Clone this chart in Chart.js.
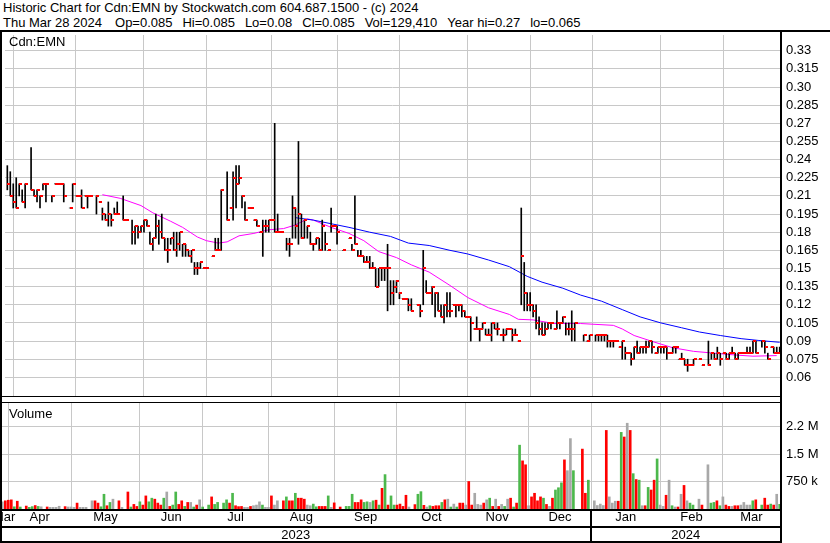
<!DOCTYPE html>
<html><head><meta charset="utf-8">
<script src="https://cdn.jsdelivr.net/npm/chart.js@4.4.1/dist/chart.umd.min.js"></script>
<style>
html,body{margin:0;padding:0;background:#fff;}
body{width:830px;height:543px;position:relative;overflow:hidden;font-family:"Liberation Sans",Arial,sans-serif;color:#000;}
.t{position:absolute;left:3px;font-size:13px;line-height:15px;white-space:pre;}
.t span{margin-left:10px;}
.t span.f{margin-left:13px;}
canvas{position:absolute;left:0;}
.lbl{position:absolute;font-size:13px;line-height:15px;white-space:pre;}
</style></head><body>
<div class="t" style="top:0">Historic Chart for Cdn:EMN by Stockwatch.com 604.687.1500 - (c) 2024</div>
<div class="t" style="top:15px">Thu Mar 28 2024<span class="f">Op=0.085</span><span>Hi=0.085</span><span>Lo=0.08</span><span>Cl=0.085</span><span>Vol=129,410</span><span>Year hi=0.27</span><span>lo=0.065</span></div>
<canvas id="pc" width="830" height="371" style="top:30px"></canvas>
<canvas id="vc" width="830" height="142" style="top:401px"></canvas>
<div class="lbl" style="left:9px;top:34px">Cdn:EMN</div>
<div class="lbl" style="left:9px;top:406px">Volume</div>
<script>
// ---- data (trading-day index 0 = Mon Apr 3 2023; first entry is day -2) ----
const firstDay = -2;
const hi = [
.235,.23,.22,.225,.22,.215,.22,null,.25,.215,
.215,.21,.22,.22,null,.21,.22,.22,.22,.22,
null,.20,.22,.21,.21,.215,.21,.21,.21,null,
.21,.205,.20,.195,.205,.195,.20,.205,null,.21,
.19,null,.19,.185,.185,.185,.19,.19,.18,.175,
.195,.19,.195,.175,.175,.175,.18,.18,.18,.17,
.17,.165,.165,.155,.155,.155,.15,.15,null,.16,
.175,.175,.215,null,.23,.20,.23,.235,.235,.21,
.205,.20,.20,.19,.19,.18,.19,.19,.19,.19,
.27,.195,.18,null,.175,.175,.21,.20,.255,.195,
.19,.185,.18,.17,.175,.175,.19,.18,.165,.20,
.185,.185,null,.165,null,.175,.17,.21,.165,.165,
.16,.16,.16,.155,.15,.15,.15,.15,.17,.14,
.14,.14,.13,.125,.125,.125,.125,null,.12,.12,
.165,.14,.13,.135,.13,.13,.12,.12,.13,.13,
.12,.12,.12,.12,.115,.11,.11,.10,.11,.10,
.105,.10,.10,.105,.105,.105,.095,.10,.10,.10,
.10,.10,.09,.20,.155,.13,.13,.12,.12,.11,
.105,.105,.105,.105,.10,.115,.105,.11,.105,.105,
.115,.105,null,null,.095,.09,.095,null,.095,.095,
.095,.095,.095,.09,.09,.09,.085,.09,.085,.08,
.08,.085,.09,.085,.085,.09,.09,.09,.08,.085,
.085,.085,.085,.08,.085,.085,.075,.08,.075,.075,
.07,.075,null,.075,.07,null,.09,.08,.08,.085,
.08,.08,.08,.08,.085,.08,.08,.08,.08,.085,
.085,.09,.09,null,.09,.09,.08,.085,.085,.085,.085];
const lo = [
.215,.21,.20,.20,.21,.205,.20,null,.215,.21,
.205,.20,.215,.205,null,.205,.22,.22,.22,.205,
null,.20,.205,.21,.21,.20,.21,.20,.21,null,
.195,.205,.19,.19,.185,.185,.195,.195,null,.19,
.19,null,.17,.17,.175,.18,.18,.185,.17,.165,
.175,.17,.175,.165,.155,.17,.165,.16,.165,.16,
.16,.16,.155,.145,.145,.15,.15,.15,null,.16,
.165,.165,.165,null,.19,.20,.19,.20,.22,.20,
.19,.20,.20,.19,.185,.18,.16,.18,.18,.19,
.18,.18,.18,null,.165,.16,.175,.175,.17,.175,
.175,.175,.17,.165,.17,.165,.165,.165,.165,.18,
.185,.17,null,.165,null,.175,.165,.17,.16,.16,
.155,.155,.15,.15,.135,.135,.14,.14,.115,.12,
.12,.13,.125,.125,.125,.115,.115,null,.12,.11,
.12,.13,.13,.12,.11,.115,.11,.105,.11,.11,
.12,.11,.115,.11,.11,.11,.09,.10,.10,.09,
.10,.095,.095,.09,.10,.095,.095,.09,.095,.10,
.09,.095,.09,.12,.115,.115,.115,.11,.10,.095,
.095,.095,.10,.10,.10,.10,.10,.105,.095,.095,
.09,.09,null,null,.09,.09,.09,null,.09,.09,
.09,.09,.085,.085,.085,.09,.085,.075,.075,.08,
.07,.075,.08,.08,.08,.08,.085,.08,.08,.08,
.08,.08,.075,.08,.08,.08,.075,.075,.07,.065,
.07,.07,null,.075,.07,null,.07,.075,.075,.075,
.07,.08,.075,.075,.08,.075,.075,.08,.08,.08,
.08,.08,.08,null,.085,.08,.075,.085,.08,.08,.08];
const cl = [
.22,.21,.205,.20,.22,.205,.22,null,.215,.21,
.215,.21,.22,.22,null,.21,.22,.22,.22,.21,
null,.20,.22,.21,.21,.20,.21,.21,.21,null,
.21,.205,.195,.19,.195,.19,.195,.195,null,.19,
.19,null,.18,.185,.18,.185,.19,.185,.17,.175,
.185,.18,.175,.165,.165,.175,.165,.17,.18,.17,
.165,.16,.165,.15,.15,.155,.15,.15,null,.16,
.165,.165,.215,null,.19,.20,.225,.22,.225,.21,
.19,.20,.20,.19,.185,.18,.185,.185,.19,.19,
.18,.18,.18,null,.17,.17,.20,.185,.195,.175,
.19,.185,.17,.17,.175,.165,.185,.17,.165,.185,
.185,.18,null,.165,null,.175,.165,.17,.16,.16,
.155,.155,.15,.15,.135,.15,.15,.15,.15,.13,
.135,.14,.13,.125,.125,.12,.115,null,.12,.115,
.15,.13,.13,.135,.13,.115,.11,.12,.115,.115,
.12,.12,.12,.115,.11,.11,.105,.10,.10,.10,
.105,.095,.095,.105,.10,.10,.095,.095,.10,.10,
.095,.095,.09,.16,.13,.12,.12,.115,.105,.10,
.095,.10,.105,.105,.10,.105,.105,.11,.10,.10,
.10,.105,null,null,.095,.09,.095,null,.095,.095,
.095,.095,.09,.09,.09,.09,.085,.09,.08,.08,
.075,.085,.08,.085,.085,.085,.09,.085,.08,.085,
.085,.085,.08,.08,.085,.085,.075,.075,.07,.07,
.07,.075,null,.075,.07,null,.07,.08,.075,.08,
.075,.08,.075,.08,.08,.075,.08,.08,.08,.08,
.08,.09,.08,null,.09,.085,.075,.085,.08,.08,.085];
// volume in thousands of shares, colour: r = down, g = up, n = unchanged
const vol = [
196,223,240,250,60,212,54,null,80,45,
65,95,70,60,null,55,45,45,45,75,
null,65,55,55,45,161,45,45,45,null,
223,223,161,60,402,89,179,268,null,223,
45,null,464,54,125,70,196,107,357,196,
295,268,161,107,295,464,71,107,464,125,
223,71,179,179,54,107,250,54,null,107,
330,125,180,null,161,250,161,429,89,65,
70,45,45,70,90,107,196,107,45,45,
357,107,223,null,223,330,223,223,429,295,
295,268,107,89,134,60,70,70,70,357,
45,167,null,54,null,71,71,402,179,179,
250,179,196,179,223,240,107,563,938,107,
357,107,107,134,71,375,54,null,120,402,
473,100,54,89,71,89,89,179,250,268,
54,134,54,161,161,107,750,107,429,125,
107,161,250,295,71,268,71,125,71,268,
295,54,161,1741,1313,1206,89,330,429,223,
330,295,125,71,295,518,580,714,1340,1045,
1920,1045,null,null,1634,429,786,null,223,95,
134,95,2143,330,161,212,212,2090,1964,2339,
2143,964,804,786,89,89,589,518,786,1366,
107,71,375,786,89,54,54,402,643,223,
161,107,null,268,107,null,1206,161,179,223,
89,330,107,71,71,89,89,107,179,107,
107,223,250,null,107,295,107,134,107,402,130];
const vcol = [
'n','r','r','r','g','r','g','','r','g',
'g','r','g','n','','r','n','n','n','n',
'','r','n','n','n','r','n','n','n','',
'n','r','r','g','g','r','g','n','','r',
'n','','r','g','r','r','g','r','r','g',
'g','r','r','r','g','n','r','g','g','r',
'r','g','r','n','g','r','n','g','','g',
'r','g','g','','g','g','r','g','r','r',
'r','n','n','r','n','n','n','g','n','n',
'r','n','n','','r','g','r','r','g','r',
'r','r','n','n','g','g','r','r','r','g',
'n','r','','r','','g','g','g','r','r',
'r','g','g','n','g','r','g','r','g','r',
'g','g','r','r','r','r','n','','r','g',
'g','r','n','g','r','r','r','g','r','n',
'g','n','g','r','r','n','r','r','n','n',
'n','r','n','g','r','n','r','n','g','n',
'r','g','r','g','r','r','n','r','r','r',
'r','g','r','n','r','g','g','g','r','n',
'n','g','','','r','r','g','','n','n',
'n','n','r','n','n','n','r','g','r','n',
'r','g','r','g','n','r','g','r','r','g',
'n','n','r','n','g','n','r','n','r','n',
'g','g','','n','r','','n','g','g','r',
'g','n','r','r','n','r','r','n','n','n',
'n','g','r','','g','r','r','g','r','n','g'];
// moving averages (day index, value)
const maFastDay = [30,36,43,47,53,57,62,65,69,72,76,81,86,91,95,99,101,107,113,118,123,129,134,140,147,153,160,167,170,175,182,191,202,205,209,216,222,229,236,243,249,257];
const maFastVal = [.211,.208,.202,.196,.189,.184,.176,.173,.171,.172,.177,.179,.182,.183,.186,.191,.190,.184,.179,.173,.164,.159,.153,.147,.136,.126,.1175,.112,.108,.1075,.1045,.1045,.103,.100,.0946,.089,.0845,.0815,.080,.0785,.0775,.078];
const maSlowDay = [95,101,107,113,120,127,133,140,147,153,160,167,173,178,185,191,198,205,211,218,225,231,238,245,251,258];
const maSlowVal = [.192,.190,.187,.184,.180,.1765,.171,.169,.165,.162,.157,.1515,.1435,.1387,.1337,.128,.123,.116,.110,.105,.101,.0975,.0946,.092,.0905,.089];
// axes
const monthStart = [0,21,44,65,87,109,130,153,174,195,218,239];
const monthNames = ['Mar','Apr','May','Jun','Jul','Aug','Sep','Oct','Nov','Dec','Jan','Feb','Mar'];
const yearStart = 195;
const yearNames = ['2023','2024'];
const yTickValues = [0.33,0.315,0.30,0.285,0.27,0.255,0.24,0.225,0.21,0.195,0.18,0.165,0.15,0.135,0.12,0.105,0.09,0.075,0.06];
const yTickLabels = ['0.33','0.315','0.30','0.285','0.27','0.255','0.24','0.225','0.21','0.195','0.18','0.165','0.15','0.135','0.12','0.105','0.09','0.075','0.06'];
const vTickValues = [750000,1500000,2250000];
const vTickLabels = ['750 k','1.5 M','2.2 M'];
const xMin = -2.78, xMax = 258.1;
const priceMin = 0.0446, priceMax = 0.343;
const volMax = 2891000;

// ---- build ----
const FONT = {family:"'Liberation Sans', Arial, sans-serif", size:13};
const colorMap = {r:'#ff0000', g:'#4cb84c', n:'#a8a8a8'};
const day = i => i + firstDay;
const hlData = [], clData = [], volData = [], volColors = [];
hi.forEach((h, i) => {
  if (h === null) return;
  hlData.push({x: day(i), y: [lo[i], h]});
  clData.push({x: day(i), y: cl[i]});
});
vol.forEach((v, i) => {
  if (v === null) return;
  volData.push({x: day(i), y: v * 1000});
  volColors.push(colorMap[vcol[i]]);
});
const maFast = maFastDay.map((d, i) => ({x: d, y: maFastVal[i]}));
const maSlow = maSlowDay.map((d, i) => ({x: d, y: maSlowVal[i]}));
const edges = [xMin, ...monthStart, xMax];
const monthMid = monthNames.map((_, i) => (edges[i] + edges[i + 1]) / 2);
const yearMid = [(xMin + yearStart) / 2, (yearStart + xMax) / 2];

const tickImg = document.createElement('canvas');
tickImg.width = 6; tickImg.height = 2;
const tctx = tickImg.getContext('2d');
tctx.fillStyle = '#ff0000'; tctx.fillRect(3, 0, 3, 2);

const noSmooth = {id:'noSmooth', beforeDatasetsDraw(c){ c.ctx.imageSmoothingEnabled = false; }};
const zeroPad = s => { s.paddingTop = 0; s.paddingBottom = 0; s.paddingLeft = 0; s.paddingRight = 0; };
const fixTicks = (lo, hiV, values) => s => { s.min = lo; s.max = hiV; s.ticks = values.map(v => ({value:v})); };

const monthGridX = () => ({
  type:'linear', position:'bottom', min:xMin, max:xMax, bounds:'data', offset:false, weight:0,
  grid:{color:'#c8c8c8', drawTicks:false, offset:false}, border:{display:false},
  ticks:{display:false},
  afterBuildTicks: fixTicks(xMin, xMax, monthStart),
  afterFit: s => { s.height = 0; zeroPad(s); }
});

const framePrice = {id:'frameP', afterDraw(chart){
  const {ctx, chartArea:a} = chart;
  ctx.save(); ctx.fillStyle = '#000';
  ctx.fillRect(0, 0, chart.width, 2);
  ctx.fillRect(0, 0, 2, chart.height);
  ctx.fillRect(a.right, 0, 2, chart.height);
  ctx.fillRect(0, a.bottom, a.right, 1);
  ctx.restore();
}};

new Chart(document.getElementById('pc'), {
  type:'bar',
  data:{datasets:[
    {type:'line', data:maSlow, borderColor:'#0000ff', borderWidth:1, pointRadius:0, tension:0, order:3},
    {type:'line', data:maFast, borderColor:'#ff00ff', borderWidth:1, pointRadius:0, tension:0, order:3},
    {type:'bar', data:hlData, backgroundColor:'#000', barThickness:1, grouped:false, order:2},
    {type:'line', data:clData, showLine:false, pointStyle:tickImg, pointRadius:2, order:1}
  ]},
  options:{
    responsive:false, animation:false, devicePixelRatio:1, events:[],
    layout:{padding:{top:2, bottom:1, left:0, right:0}},
    plugins:{legend:{display:false}, tooltip:{enabled:false}},
    scales:{
      x: monthGridX(),
      y:{type:'linear', position:'right', min:priceMin, max:priceMax, bounds:'data', beginAtZero:false,
        grid:{color:'#c8c8c8', drawTicks:false}, border:{display:false},
        ticks:{font:FONT, color:'#000', padding:6, callback:v => yTickLabels[yTickValues.indexOf(v)]},
        afterBuildTicks: fixTicks(priceMin, priceMax, yTickValues),
        afterFit: s => { s.width = 50; zeroPad(s); }}
    }
  },
  plugins:[noSmooth, framePrice]
});

const frameVol = {id:'frameV', afterDraw(chart){
  const {ctx, chartArea:a} = chart;
  const xs = chart.scales.x, xm = chart.scales.xm;
  const H = chart.height;
  ctx.save(); ctx.fillStyle = '#000';
  ctx.fillRect(0, 1, a.right, 1);
  ctx.fillRect(0, a.bottom, a.right, 2);
  ctx.fillRect(0, xm.bottom, a.right, 2);
  ctx.fillRect(0, H - 2, a.right, 2);
  ctx.fillRect(0, 0, 2, H);
  ctx.fillRect(a.right, 0, 2, H);
  const px = Math.round(xs.getPixelForValue(yearStart));
  ctx.fillRect(px - 1, a.bottom, 2, H - a.bottom);
  ctx.restore();
}};

const labelAxis = (mids, names, weight, pad) => ({
  type:'linear', position:'bottom', min:xMin, max:xMax, bounds:'data', offset:false, weight:weight,
  grid:{display:false, drawTicks:false}, border:{display:false},
  ticks:{font:FONT, color:'#000', padding:pad, autoSkip:false, maxRotation:0, minRotation:0,
    callback:v => names[mids.indexOf(v)]},
  afterBuildTicks: fixTicks(xMin, xMax, mids),
  afterFit: s => { s.height = 17; zeroPad(s); }
});

new Chart(document.getElementById('vc'), {
  type:'bar',
  data:{datasets:[
    {data:volData, backgroundColor:volColors, barThickness:2, grouped:false, xAxisID:'x', yAxisID:'y'}
  ]},
  options:{
    responsive:false, animation:false, devicePixelRatio:1, events:[],
    layout:{padding:{top:2, bottom:0, left:0, right:0}},
    plugins:{legend:{display:false}, tooltip:{enabled:false}},
    scales:{
      x: monthGridX(),
      xm: labelAxis(monthMid, monthNames, 1, 1),
      xy: labelAxis(yearMid, yearNames, 2, 2),
      y:{type:'linear', position:'right', min:0, max:volMax, bounds:'data',
        grid:{color:'#c8c8c8', drawTicks:false}, border:{display:false},
        ticks:{font:FONT, color:'#000', padding:6, callback:v => vTickLabels[vTickValues.indexOf(v)]},
        afterBuildTicks: fixTicks(0, volMax, vTickValues),
        afterFit: s => { s.width = 50; zeroPad(s); }}
    }
  },
  plugins:[frameVol]
});
</script>
</body></html>
